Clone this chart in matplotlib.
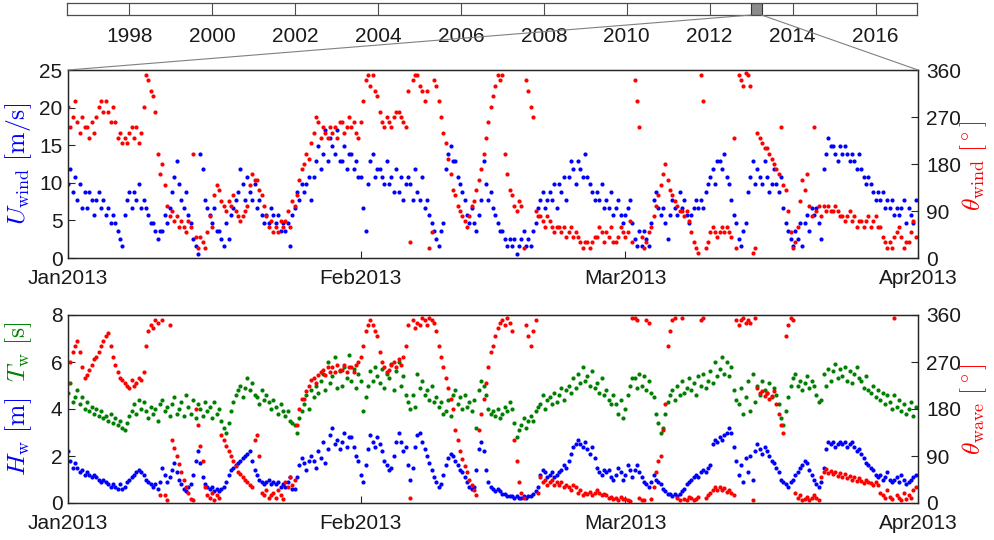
import numpy as np
import matplotlib.pyplot as plt
import matplotlib.dates as mdates
from matplotlib.patches import ConnectionPatch

plt.rcParams['font.family'] = ['Liberation Sans', 'DejaVu Sans']
plt.rcParams['mathtext.fontset'] = 'cm'

KNOT = 0.514444  # m/s per knot

# six-hourly records, 1 Jan 2013 00:00 - 31 Mar 2013 18:00
# wind speed (knots)
U_KT = [
    19, 23, 17, 21, 15, 19, 13, 17, 13, 17, 15, 11, 15, 17, 13, 15, 11, 13, 9, 11,
    9, 7, 5, 3, 11, 15, 17, 13, 17, 15, 19, 13, 15, 13, 11, 9, 9, 7, 5, 7,
    7, 11, 9, 13, 17, 21, 25, 19, 15, 13, 17, 11, 9, 5, 3, 1, 27, 23, 15, 13,
    11, 9, 13, 7, 7, 5, 3, 9, 5, 11, 13, 15, 17, 23, 19, 15, 21, 17, 15, 19,
    13, 15, 11, 9, 11, 9, 13, 11, 9, 11, 7, 9, 7, 9, 3, 11, 13, 17, 15, 19,
    17, 19, 21, 15, 21, 25, 29, 23, 27, 33, 25, 31, 29, 27, 33, 25, 25, 29, 23, 27,
    27, 23, 25, 21, 21, 13, 7, 19, 25, 27, 21, 23, 23, 21, 19, 25, 19, 21, 17, 23,
    17, 21, 15, 19, 21, 19, 15, 23, 17, 15, 21, 13, 15, 11, 9, 7, 5, 3, 7, 9,
    23, 27, 29, 25, 25, 21, 19, 17, 15, 11, 9, 13, 9, 7, 11, 15, 25, 19, 15, 17,
    13, 11, 9, 7, 7, 5, 3, 5, 3, 5, 1, 3, 5, 7, 3, 5, 3, 7, 9, 13,
    15, 17, 13, 15, 17, 15, 19, 13, 19, 17, 21, 15, 21, 25, 23, 19, 25, 23, 21, 27,
    21, 19, 17, 15, 17, 15, 19, 13, 15, 13, 17, 11, 13, 15, 11, 9, 11, 13, 15, 9,
    5, 3, 7, 3, 7, 5, 3, 9, 15, 17, 13, 11, 13, 9, 5, 11, 15, 13, 11, 17,
    13, 15, 11, 9, 11, 13, 15, 13, 15, 13, 17, 19, 21, 23, 19, 25, 25, 23, 27, 21,
    19, 15, 11, 9, 5, 3, 7, 9, 17, 21, 25, 19, 23, 21, 19, 25, 21, 17, 19, 23,
    19, 17, 21, 13, 9, 7, 5, 3, 7, 5, 9, 3, 9, 11, 7, 13, 11, 13, 9, 5,
    23, 27, 31, 29, 29, 27, 25, 29, 27, 29, 27, 25, 27, 25, 23, 27, 23, 21, 19, 21,
    19, 17, 15, 17, 15, 17, 13, 15, 13, 15, 11, 13, 11, 13, 15, 9, 13, 11, 9, 15,
]

# wind direction (deg)
THETA_WIND = [
    290, 250, 270, 300, 260, 240, 270, 250, 250, 230, 260, 240, 270, 290, 300, 280, 300, 280, 260, 290,
    260, 230, 240, 220, 230, 220, 240, 250, 230, 250, 220, 240, 290, 350, 340, 320, 310, 280, 200, 160,
    180, 140, 100, 80, 90, 70, 80, 60, 70, 60, 50, 70, 60, 200, 40, 20, 40, 30, 20, 50,
    80, 60, 120, 140, 130, 110, 100, 90, 110, 100, 120, 90, 80, 70, 80, 90, 100, 140, 160, 150,
    150, 130, 120, 100, 80, 60, 70, 50, 60, 50, 70, 60, 70, 90, 60, 110, 100, 120, 150, 170,
    180, 200, 190, 220, 240, 270, 260, 230, 250, 240, 230, 250, 240, 250, 230, 260, 260, 240, 250, 270,
    250, 260, 240, 230, 260, 300, 340, 350, 330, 350, 320, 310, 280, 260, 250, 270, 260, 250, 270, 280,
    280, 270, 260, 250, 320, 30, 340, 350, 350, 330, 320, 300, 320, 20, 50, 340, 330, 300, 270, 240,
    220, 190, 160, 130, 120, 100, 90, 80, 70, 60, 80, 100, 110, 130, 150, 170, 200, 230, 260, 290,
    310, 330, 350, 340, 350, 200, 160, 130, 120, 100, 90, 110, 100, 20, 340, 320, 290, 270, 90, 80,
    80, 70, 60, 80, 70, 60, 50, 60, 60, 50, 60, 40, 50, 60, 40, 50, 40, 30, 20, 30,
    30, 20, 30, 40, 40, 60, 50, 30, 50, 40, 60, 30, 30, 40, 60, 50, 40, 50, 70, 30,
    340, 300, 250, 40, 20, 30, 50, 60, 80, 100, 120, 140, 160, 180, 150, 130, 120, 110, 100, 90,
    90, 80, 90, 70, 50, 30, 20, 10, 350, 300, 20, 30, 50, 60, 50, 40, 50, 60, 50, 60,
    50, 40, 230, 20, 350, 340, 330, 355, 350, 330, 10, 20, 240, 230, 220, 210, 210, 200, 190, 180,
    170, 160, 250, 140, 130, 90, 50, 20, 30, 60, 110, 150, 130, 160, 100, 80, 250, 90, 100, 80,
    100, 90, 100, 90, 90, 100, 90, 80, 80, 70, 80, 90, 70, 80, 60, 70, 70, 60, 70, 80,
    60, 70, 80, 60, 60, 40, 30, 20, 30, 20, 40, 50, 60, 40, 20, 30, 30, 50, 70, 40,
]

# significant wave height (m)
H_W = [
    2.2, 1.8, 1.5, 1.7, 1.5, 1.3, 1.4, 1.2, 1.3, 1.2, 1.1, 1.2, 1.1, 1.0, 0.9, 1.0, 0.9, 0.8, 0.7, 0.8,
    0.7, 0.6, 0.8, 0.6, 0.7, 0.9, 1.0, 1.1, 1.2, 1.3, 1.4, 1.3, 1.2, 1.0, 0.9, 0.8, 0.7, 0.8, 0.6, 0.9,
    1.5, 1.2, 0.9, 1.1, 1.4, 1.7, 1.3, 1.0, 0.8, 0.6, 0.5, 0.7, 0.8, 1.2, 1.8, 2.2, 1.7, 1.1, 0.8, 0.7,
    0.6, 0.7, 0.5, 0.6, 0.5, 0.6, 0.7, 0.9, 1.2, 1.4, 1.5, 1.6, 1.7, 1.8, 1.9, 2.0, 2.1, 2.2, 1.8, 1.4,
    1.2, 1.0, 0.9, 0.8, 0.9, 1.0, 0.8, 0.9, 0.8, 0.9, 0.7, 0.8, 0.7, 0.9, 1.1, 0.6, 0.6, 1.1, 1.6, 1.9,
    1.7, 1.4, 1.8, 2.0, 1.8, 1.5, 2.2, 1.9, 2.6, 1.7, 2.3, 2.9, 3.2, 2.5, 2.7, 2.3, 2.6, 3.0, 2.4, 2.8,
    2.8, 2.4, 2.0, 1.8, 1.2, 0.9, 1.6, 2.3, 2.9, 2.6, 2.4, 2.8, 2.5, 2.2, 1.8, 1.6, 1.4, 1.5, 2.0, 2.6,
    3.0, 2.6, 2.2, 2.4, 1.6, 1.0, 1.5, 2.4, 2.9, 3.0, 2.6, 2.3, 2.0, 1.7, 1.4, 1.1, 0.9, 0.7, 0.8, 1.2,
    1.6, 1.9, 2.1, 2.0, 1.8, 1.6, 1.4, 1.3, 1.1, 0.9, 0.7, 0.6, 0.7, 1.4, 2.3, 2.6, 2.2, 1.4, 0.9, 0.7,
    0.6, 0.5, 0.6, 0.5, 0.4, 0.4, 0.3, 0.3, 0.3, 0.2, 0.3, 0.2, 0.2, 0.3, 0.2, 0.3, 0.3, 0.4, 0.5, 0.7,
    1.2, 1.4, 1.3, 1.1, 1.2, 1.3, 1.1, 1.2, 1.3, 1.4, 1.6, 1.5, 1.8, 2.1, 2.4, 2.5, 2.7, 2.5, 2.4, 2.6,
    2.3, 2.1, 2.4, 1.9, 1.5, 1.3, 1.2, 1.4, 1.3, 1.4, 1.1, 1.0, 1.2, 1.5, 1.3, 1.0, 1.2, 1.6, 1.4, 1.1,
    1.4, 1.6, 1.3, 1.1, 0.9, 0.8, 0.7, 0.9, 1.2, 1.0, 0.9, 0.8, 0.6, 0.5, 0.4, 0.4, 0.3, 0.4, 0.3, 0.4,
    0.5, 0.6, 0.8, 0.9, 1.0, 1.1, 1.2, 1.1, 1.3, 1.4, 1.3, 1.5, 1.6, 2.5, 2.7, 2.6, 2.8, 2.7, 2.9, 3.0,
    3.2, 3.0, 2.4, 1.8, 1.2, 1.6, 0.9, 1.9, 1.3, 2.0, 1.0, 2.2, 2.5, 2.3, 2.1, 2.4, 2.2, 2.0, 1.8, 1.7,
    1.5, 1.3, 1.0, 0.9, 0.8, 0.7, 0.9, 1.0, 1.2, 1.3, 1.5, 1.6, 1.8, 1.7, 1.4, 1.2, 1.0, 0.8, 0.7, 0.9,
    1.5, 2.3, 2.6, 2.5, 2.6, 2.4, 2.5, 2.6, 2.5, 2.6, 2.4, 2.5, 2.6, 2.4, 2.2, 2.3, 2.1, 1.9, 1.7, 1.6,
    1.5, 1.4, 1.2, 1.1, 1.2, 1.0, 1.1, 1.3, 1.0, 0.9, 1.0, 1.1, 0.9, 1.2, 1.0, 0.8, 0.9, 1.0, 1.1, 1.2,
]

# peak wave period (s)
T_W = [
    4.7, 5.1, 4.3, 4.5, 4.8, 4.2, 4.5, 4.0, 4.3, 3.9, 4.1, 3.8, 4.0, 3.7, 3.9, 3.6, 3.7, 3.5, 3.8, 3.4,
    3.6, 3.3, 3.5, 3.2, 3.1, 3.4, 3.7, 3.9, 4.2, 3.8, 4.4, 4.0, 4.3, 3.9, 3.6, 4.1, 3.8, 4.0, 3.5, 4.2,
    4.4, 3.9, 4.1, 3.7, 4.2, 4.5, 3.8, 4.0, 4.3, 3.7, 4.6, 4.1, 3.8, 4.4, 3.6, 4.2, 4.0, 3.7, 4.3, 3.9,
    4.1, 3.6, 4.3, 3.8, 4.0, 3.5, 3.2, 3.0, 3.4, 3.9, 4.3, 4.6, 4.8, 5.0, 4.5, 4.9, 5.3, 4.8, 5.1, 4.6,
    4.5, 4.2, 4.8, 4.4, 4.6, 4.3, 4.0, 4.4, 4.1, 3.8, 4.2, 3.9, 3.7, 3.9, 3.5, 3.4, 3.3, 3.0, 3.6, 3.9,
    4.2, 4.6, 4.0, 4.8, 4.5, 5.0, 4.7, 5.2, 5.5, 4.8, 6.0, 5.1, 5.4, 6.2, 4.9, 5.6, 5.0, 5.8, 5.3, 6.3,
    5.2, 5.7, 4.9, 5.5, 5.2, 3.9, 4.5, 5.0, 5.6, 5.2, 5.8, 5.4, 5.1, 5.7, 4.9, 5.5, 5.3, 5.9, 4.8, 5.6,
    6.0, 5.0, 5.4, 4.6, 4.3, 4.0, 4.6, 4.1, 5.5, 4.9, 5.2, 4.6, 4.8, 4.4, 5.0, 4.3, 4.5, 4.1, 4.3, 3.8,
    3.9, 4.4, 3.7, 4.6, 4.8, 4.2, 4.5, 4.0, 4.6, 4.1, 4.3, 3.9, 4.4, 3.2, 4.8, 5.2, 5.0, 4.6, 4.0, 3.8,
    3.9, 3.7, 4.0, 3.6, 3.8, 4.1, 3.9, 4.3, 4.0, 3.4, 2.8, 3.1, 3.3, 3.6, 3.2, 3.5, 3.7, 3.5, 3.9, 4.1,
    4.2, 4.6, 4.0, 4.4, 4.5, 4.2, 4.7, 4.3, 4.6, 4.9, 4.4, 4.8, 5.0, 4.7, 5.3, 4.9, 5.5, 5.1, 5.8, 5.2,
    5.4, 5.0, 5.6, 4.9, 5.1, 4.7, 5.3, 4.6, 4.8, 4.4, 4.2, 4.6, 4.2, 3.8, 4.4, 3.6, 4.0, 4.6, 5.0, 5.3,
    5.3, 4.9, 5.5, 5.0, 5.4, 4.8, 5.2, 4.7, 4.5, 3.8, 3.4, 3.0, 3.2, 3.8, 4.3, 4.6, 4.8, 4.4, 5.0, 4.6,
    5.2, 4.7, 4.9, 5.3, 4.8, 5.1, 4.6, 5.4, 5.0, 5.5, 4.9, 5.2, 5.6, 5.1, 6.0, 5.4, 5.7, 6.2, 5.5, 6.0,
    5.4, 5.8, 4.8, 4.4, 4.2, 4.9, 3.8, 4.5, 5.2, 3.9, 5.5, 4.3, 5.0, 4.6, 5.2, 4.8, 4.7, 5.1, 4.5, 4.9,
    4.6, 4.2, 3.6, 3.3, 3.9, 4.5, 5.0, 5.3, 5.5, 5.0, 5.2, 4.8, 5.1, 5.4, 4.9, 5.2, 5.0, 4.6, 4.3, 4.4,
    5.5, 5.0, 5.7, 5.2, 5.6, 5.9, 5.3, 5.7, 5.4, 5.8, 5.2, 5.6, 5.1, 5.5, 5.8, 5.3, 5.2, 4.9, 5.4, 4.8,
    4.7, 5.0, 4.5, 4.8, 4.4, 4.7, 4.2, 4.6, 4.3, 4.0, 4.6, 4.1, 4.4, 3.9, 4.2, 3.8, 4.0, 4.3, 3.7, 4.1,
]

# mean wave direction (deg)
THETA_WAVE = [
    230, 270, 290, 300, 310, 290, 260, 240, 245, 255, 265, 275, 280, 290, 300, 310, 320, 325, 300, 280,
    265, 250, 240, 235, 230, 225, 220, 235, 225, 230, 240, 235, 250, 300, 330, 340, 335, 350, 345, 15,
    350, 15, 5, 340, 120, 105, 90, 75, 60, 45, 30, 20, 8, 5, 180, 150, 110, 80, 30, 15,
    10, 20, 5, 15, 10, 130, 120, 110, 100, 90, 80, 70, 60, 55, 50, 45, 40, 35, 30, 120,
    130, 90, 20, 15, 25, 10, 15, 20, 10, 25, 15, 8, 40, 30, 50, 35, 45, 150, 180, 200,
    200, 215, 225, 235, 240, 230, 245, 250, 255, 245, 260, 250, 260, 250, 265, 255, 255, 265, 250, 260,
    260, 250, 265, 270, 280, 300, 330, 340, 350, 340, 330, 320, 290, 270, 260, 250, 255, 265, 270, 260,
    275, 265, 280, 300, 340, 10, 350, 335, 345, 340, 355, 350, 340, 355, 350, 345, 330, 300, 280, 260,
    240, 220, 200, 180, 140, 120, 100, 85, 70, 60, 45, 35, 25, 15, 140, 170, 200, 230, 260, 290,
    300, 320, 335, 345, 350, 340, 355, 345, 330, 120, 80, 40, 20, 10, 340, 320, 300, 330, 350, 20,
    50, 40, 45, 35, 40, 45, 35, 40, 35, 40, 30, 35, 30, 25, 35, 30, 20, 25, 15, 20,
    18, 22, 15, 20, 25, 20, 15, 18, 15, 10, 12, 8, 10, 5, 12, 8, 8, 5, 3, 355,
    355, 350, 10, 5, 5, 350, 345, 8, 30, 60, 80, 90, 140, 190, 300, 330, 350, 355, 10, 5,
    355, 8, 5, 12, 10, 5, 8, 12, 350, 355, 10, 15, 20, 25, 30, 25, 30, 25, 28, 22,
    25, 20, 15, 350, 340, 350, 355, 345, 350, 345, 5, 355, 220, 210, 215, 205, 210, 200, 205, 215,
    190, 170, 150, 135, 320, 340, 355, 350, 20, 10, 15, 5, 8, 12, 5, 10, 15, 10, 5, 50,
    60, 65, 58, 62, 55, 60, 52, 58, 50, 55, 48, 52, 45, 50, 42, 48, 42, 38, 45, 40,
    38, 35, 40, 34, 20, 15, 10, 25, 12, 8, 355, 15, 10, 5, 20, 8, 15, 10, 25, 30,
]

YEARS = list(range(1998, 2017, 2))
MONTHS = ['2013-01-01', '2013-02-01', '2013-03-01', '2013-04-01']

t = np.datetime64('2013-01-01T00') + np.arange(len(U_KT)) * np.timedelta64(6, 'h')
u_wind = np.array(U_KT) * KNOT

BLUE, RED, GREEN = '#0000ff', '#ff0000', '#008000'
AXC = '#262626'
FS = 15
W, H = 995, 540


def fig_box(x0, y0, x1, y1):
    # pixel box (top-left origin) -> figure fraction rect
    return [x0 / W, 1 - y1 / H, (x1 - x0) / W, (y1 - y0) / H]


def style(ax, side):
    for s in ax.spines.values():
        s.set_color(AXC)
        s.set_linewidth(0.9)
    ax.tick_params(axis='y', direction='in', length=5, width=0.8, colors=AXC,
                   labelcolor='#1a1a1a', labelsize=FS, pad=4 if side == 'left' else 6)


def time_axis(ax):
    ax.set_xlim(np.datetime64(MONTHS[0]), np.datetime64(MONTHS[-1]))
    ax.set_xticks([np.datetime64(m) for m in MONTHS])
    ax.xaxis.set_major_formatter(mdates.DateFormatter('%b%Y'))
    ax.tick_params(axis='x', direction='in', length=5, width=0.8, colors=AXC,
                   labelcolor='#1a1a1a', labelsize=FS, pad=8)


def dots(ax, x, y, color):
    ax.plot(x, y, linestyle='none', marker='o', ms=3.0, mew=0, color=color)


fig = plt.figure(figsize=(W / 100, H / 100), dpi=100)

# overview bar of the full record
ax0 = fig.add_axes(fig_box(67, 3, 917, 15))
ax0.set_xlim(1996.5, 2017.0)
ax0.set_ylim(0, 1)
ax0.set_yticks([])
ax0.set_xticks(YEARS)
ax0.tick_params(axis='x', length=0, labelsize=FS, labelcolor='#1a1a1a', pad=8.5)
for yr in YEARS:
    ax0.axvline(yr, color='#4d4d4d', lw=0.8)
ax0.axvspan(2013.0, 2013.25, facecolor='#8c8c8c', edgecolor='#333333', lw=0.8)
for s in ax0.spines.values():
    s.set_color('#4d4d4d')
    s.set_linewidth(0.9)

# wind panel
ax1 = fig.add_axes(fig_box(68, 70, 918, 258))
ax1r = ax1.twinx()
dots(ax1, t, u_wind, BLUE)
dots(ax1r, t, THETA_WIND, RED)
ax1.set_ylim(0, 25)
ax1.set_yticks(range(0, 26, 5))
ax1r.set_ylim(0, 360)
ax1r.set_yticks(range(0, 361, 90))
time_axis(ax1)
style(ax1, 'left')
style(ax1r, 'right')

# wave panel
ax2 = fig.add_axes(fig_box(68, 315, 918, 503))
ax2r = ax2.twinx()
dots(ax2, t, T_W, GREEN)
dots(ax2, t, H_W, BLUE)
dots(ax2r, t, THETA_WAVE, RED)
ax2.set_ylim(0, 8)
ax2.set_yticks(range(0, 9, 2))
ax2r.set_ylim(0, 360)
ax2r.set_yticks(range(0, 361, 90))
time_axis(ax2)
style(ax2, 'left')
style(ax2r, 'right')

# zoom lines from the highlighted window to the wind panel
for xa, xb in [(2013.0, 0.0), (2013.25, 1.0)]:
    con = ConnectionPatch(xyA=(xa, 0), coordsA=ax0.transData,
                          xyB=(xb, 1), coordsB=ax1.transAxes,
                          color='#808080', lw=0.8)
    fig.add_artist(con)

# axis labels
LS = 18.5
fig.text(19 / W, 1 - 164 / H, r'$U_{\rm wind}\ [\rm m/s]$', color=BLUE, fontsize=LS,
         rotation=90, ha='center', va='center')
fig.text(974 / W, 1 - 166 / H, r'$\theta_{\rm wind}\ [^\circ]$', color=RED, fontsize=LS,
         rotation=90, ha='center', va='center')
fig.text(19 / W, 1 - 437 / H, r'$H_{\rm w}\ [\rm m]$', color=BLUE, fontsize=LS,
         rotation=90, ha='center', va='center')
fig.text(19 / W, 1 - 352 / H, r'$T_{\rm w}\ [\rm s]$', color=GREEN, fontsize=LS,
         rotation=90, ha='center', va='center')
fig.text(974 / W, 1 - 409 / H, r'$\theta_{\rm wave}\ [^\circ]$', color=RED, fontsize=LS,
         rotation=90, ha='center', va='center')

fig.savefig('out.png', dpi=100)
